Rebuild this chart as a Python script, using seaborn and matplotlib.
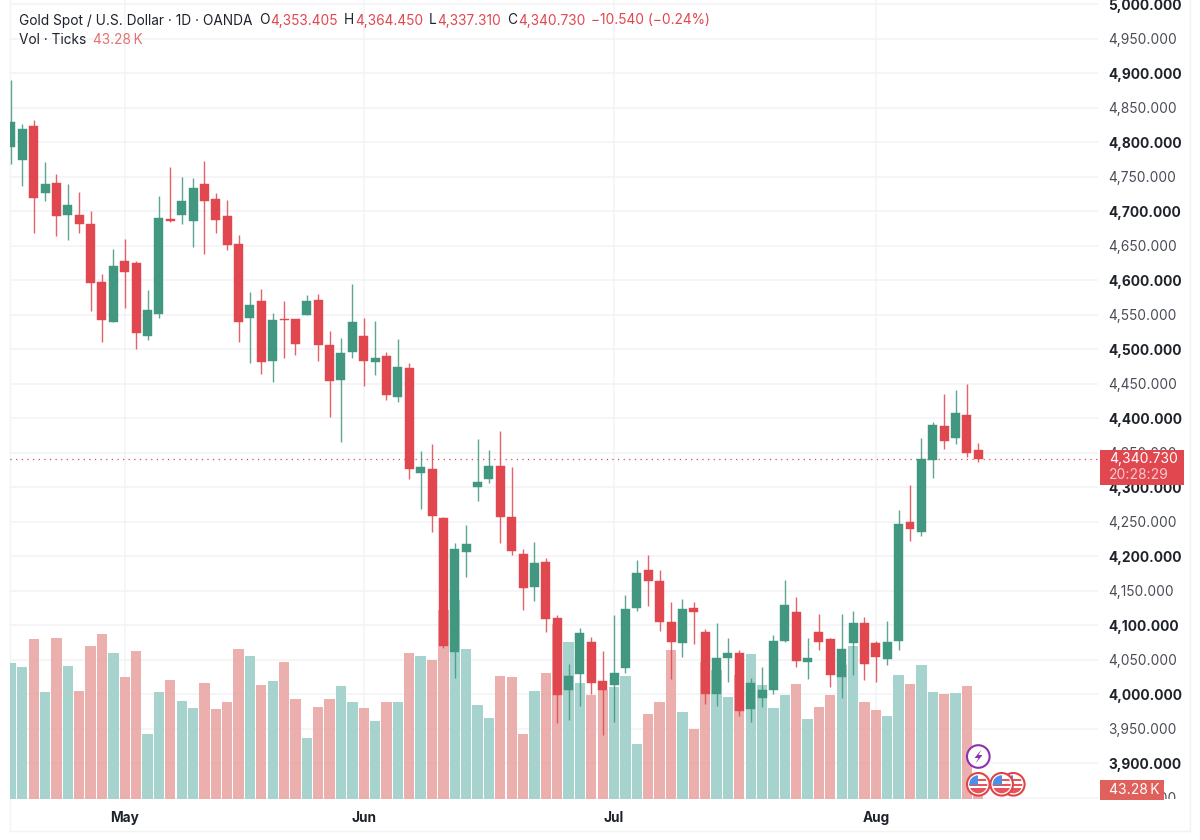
import matplotlib
matplotlib.use("Agg")
import matplotlib.pyplot as plt
import seaborn as sns
import pandas as pd
from matplotlib.patches import Circle, Rectangle, Polygon
from matplotlib.transforms import Affine2D, Bbox

opens = [4793,4774,4824,4726,4741,4695,4695,4682,4597.5,4539,4628.5,4625,4519.7,4550.7,4688.4,4694,4686.5,4740,4718,4693,4653,4545,4569.5,4483.5,4544,4544.4,4549.7,4571,4505.7,4455.5,4496,4520,4482,4490,4431,4473,4320.8,4326,4255.6,4061,4207,4300.5,4311.6,4331,4257.5,4203.4,4156,4192,4111,4006,4029.5,4076,4018.9,4013.6,4037.7,4124.7,4179.7,4164.3,4104.4,4074,4125,4090.4,4001,4052,4060,3978.8,3995.2,4007,4077.8,4119,4047.4,4090,4080.7,4025,4074,4103,4074.4,4051,4077.3,4249.3,4235.3,4339,4388.9,4371,4405.3,4353.405]
closes = [4830,4819,4720,4740,4693,4709,4681,4596.5,4542.5,4621,4612.6,4523.6,4556.5,4690,4686,4714.5,4734,4714.5,4688,4651.7,4540,4564.7,4481.6,4542.5,4543,4508,4569.5,4506.7,4454.5,4494.6,4540,4483.5,4487,4434,4474.8,4327,4329,4259,4070.6,4210,4218,4307.7,4331,4257.5,4208,4154.6,4191,4109.7,3999.6,4026.6,4088.5,4016.5,4006.3,4031,4123.7,4175.4,4164.3,4105.4,4076.4,4123.2,4119.8,4001,4052,4060.4,3976.4,4017,4006.8,4077.3,4129.5,4048,4052,4076,4028,4065.7,4103,4044.5,4054,4076.4,4246.9,4239.6,4341,4390.3,4367,4407.7,4350,4340.73]
highs = [4890,4827,4832,4771,4754,4739,4728.5,4700,4609,4646,4660,4628,4586,4722,4764,4749,4748,4772.4,4726,4717,4665,4583.5,4588,4552,4569.5,4544.4,4579,4579.6,4527,4516,4594.6,4544.9,4541,4496,4514.4,4480.7,4352,4363,4257.5,4218.9,4246,4369.6,4354,4382,4329,4210,4221,4197.6,4114.5,4044,4095.7,4082.7,4062.8,4115,4143.5,4194.7,4202,4179.7,4133.4,4137.7,4134.3,4094,4103.9,4081,4064,4023.2,4040.2,4086,4165.7,4141,4081.7,4116,4081.7,4116.4,4120.8,4112,4078,4106.3,4267,4303.4,4371,4394.7,4434.7,4441,4449.2,4364.45]
lows = [4768,4737,4668,4715,4664,4658,4668,4555,4510,4539,4560,4501,4513.5,4546,4685,4682,4648,4638.6,4669,4644,4511,4480.6,4464.7,4453,4488,4491.7,4549.7,4482.6,4402,4366,4488,4447,4463,4426.5,4424,4311.6,4269,4236,4066.7,4024,4170.6,4280,4305.8,4219,4202,4122,4136,4090.9,3959,3963,3983.6,4000.5,3941.6,3960,4030.5,4121.3,4128,4092.3,4022.3,4054.6,4072.5,3986,3983.6,4017.5,3969,3960.5,3982.2,4000,4076,4040,4022,4065,4011,3995,4028,4020.8,4018.4,4042.5,4065,4222.7,4230,4313,4356,4362.8,4343.5,4337.31]
volumes = [1949,1891,2304,1531,2309,1915,1555,2198,2376,2098,1747,2131,931,1531,1704,1402,1310,1661,1291,1392,2150,2054,1632,1690,1968,1440,874,1315,1440,1622,1392,1301,1118,1392,1392,2093,2050,1997,2717,2861,2150,1349,1162,1766,1747,931,1555,1805,2515,2256,1670,1493,1565,1608,1762,782,1214,1392,2141,1243,998,1973,1853,1459,1781,2083,1637,1301,1493,1651,1147,1320,1488,1920,2194,1397,1282,1190,1776,1651,1930,1536,1512,1526,1618,43.28]
month_positions = [10, 31, 53, 76]
month_labels = ["May", "Jun", "Jul", "Aug"]
price_ticks = list(range(3850, 5001, 50))
last_price = 4340.73

GREEN, RED = "#41977F", "#E1474F"
VOL_GREEN, VOL_RED = "#A1D0CB", "#EAA9A7"
GRID = "#F2F3F5"
INK = "#1E222B"
FONT = "Inter"

sns.set_theme(style="white", rc={"font.family": [FONT, "DejaVu Sans"]})
W, H = 1200, 840
fig = plt.figure(figsize=(W / 100, H / 100), dpi=100, facecolor="white")
PX = Affine2D().scale(1, -1).translate(0, H)  # screen pixels, top-left origin

axes_rect = [10 / W, 1 - 798.7 / H, 1088 / W, 798.7 / H]
XLIM = (-0.083, 95.52)
YLIM = (3848.8, 5006.2)

# outer frame of the chart
frame = fig.add_axes([10 / W, 1 - 831 / H, 1180 / W, 831 / H], zorder=-1)
frame.set_xticks([]); frame.set_yticks([])
frame.spines["top"].set_visible(False)
for s in ("left", "right", "bottom"):
    frame.spines[s].set_color(GRID); frame.spines[s].set_linewidth(1.0)

# scale pane: grid and tick labels, beneath everything
ax = fig.add_axes(axes_rect, zorder=0)
ax.patch.set_alpha(0)
ax.set_xlim(*XLIM); ax.set_ylim(*YLIM)
for s in ax.spines.values():
    s.set_visible(False)
ax.set_axisbelow(True)
ax.grid(True, axis="y", color=GRID, lw=1.1)
ax.grid(True, axis="x", color="#F3F4F6", lw=1.1)
ax.set_xticks(month_positions, month_labels, fontsize=9.8, fontweight="bold", color=INK)
ax.tick_params(axis="x", length=0, pad=8.5)
ax.yaxis.tick_right()
ax.set_yticks(price_ticks, [f"{v:,.3f}" for v in price_ticks])
ax.tick_params(axis="y", length=0, pad=7.5)
clip = Bbox([[1090, 41], [1200, 840]])
for v, lab in zip(price_ticks, ax.get_yticklabels()):
    bold = v % 100 == 0
    lab.set_fontsize(9.9)
    lab.set_fontweight("bold" if bold else "normal")
    lab.set_color(INK if bold else "#4A4D57")
    lab.set_clip_box(clip); lab.set_clip_on(True)

# volume pane
vol_ax = fig.add_axes(axes_rect, zorder=1)
index = list(range(len(opens)))
direction = ["up" if c >= o else "down" for o, c in zip(opens, closes)]
vol_df = pd.DataFrame({"i": index, "volume": volumes, "direction": direction})
sns.barplot(data=vol_df, x="i", y="volume", hue="direction", hue_order=["up", "down"],
            palette={"up": VOL_GREEN, "down": VOL_RED}, native_scale=True, dodge=False,
            width=0.905, saturation=1, legend=False, ax=vol_ax, linewidth=0, alpha=0.93)
vol_ax.set_xlim(*XLIM); vol_ax.set_ylim(0, 11501)
vol_ax.axis("off")

# candle pane
candle_ax = fig.add_axes(axes_rect, zorder=2)
candle_ax.set_xlim(*XLIM); candle_ax.set_ylim(*YLIM)
candle_ax.axis("off")
colors = [GREEN if d == "up" else RED for d in direction]
candle_ax.vlines(index, lows, highs, colors=colors, lw=1.0, alpha=0.85, zorder=3)
candle_ax.bar(index, [abs(c - o) for o, c in zip(opens, closes)], bottom=[min(o, c) for o, c in zip(opens, closes)],
              width=0.79, color=colors, edgecolor=colors, linewidth=0.3, zorder=4)
candle_ax.axhline(last_price, color=RED, lw=0.9, linestyle=(0, (1, 3.5)), zorder=2)

def ptext(x, y, s, color=INK, size=9.85, **kw):
    fig.text(x, y, s, color=color, fontsize=size, transform=PX, va="center", ha="left", zorder=12, **kw)

# header
ptext(19, 20.5, "Gold Spot / U.S. Dollar · 1D · OANDA")
ptext(259, 20.5, "O"); ptext(270, 20.5, "4,353.405", RED)
ptext(344, 20.5, "H"); ptext(355, 20.5, "4,364.450", RED)
ptext(429, 20.5, "L"); ptext(437, 20.5, "4,337.310", RED)
ptext(507, 20.5, "C"); ptext(518, 20.5, "4,340.730", RED)
ptext(591, 20.5, "−10.540 (−0.24%)", RED)
ptext(19, 39.5, "Vol · Ticks"); ptext(93, 39.5, "43.28\u2009K", "#E5716F")

# price and volume badges
fig.add_artist(Rectangle((1099.5, 450), 84.5, 35, transform=PX, fc=RED, ec="none", zorder=10))
ptext(1109, 458.5, "4,340.730", "#FFFFFF", 10)
ptext(1109, 475, "20:28:29", "#F6C9CB", 10)
fig.add_artist(Rectangle((1099.5, 780), 64.5, 20, transform=PX, fc="#E0605B", ec="none", zorder=10))
ptext(1109, 790, "43.28\u2009K", "#FFFFFF", 10)

# event markers
fig.add_artist(Circle((978.3, 756.5), 11.3, transform=PX, fc="white", ec="#8E2FB0", lw=1.5, zorder=8))
fig.add_artist(Polygon([(981.5, 749.5), (974.5, 758), (978.5, 758), (975.5, 763.5), (982.5, 755), (978.5, 755)],
                       closed=True, transform=PX, fc="#8E2FB0", ec="none", zorder=9))

def flag(cx, cy, z):
    rim = Circle((cx, cy), 11.3, transform=PX, fc="white", ec="#E04448", lw=1.5, zorder=z)
    fig.add_artist(rim)
    disc = Circle((cx, cy), 9, transform=PX, fc="white", ec="none", zorder=z)
    fig.add_artist(disc)
    for k, (y0, hh) in enumerate([(-5.5, 2.4), (-0.8, 2.4), (3.9, 5.5)]):
        r = Rectangle((cx - 10, cy + y0), 20, hh, transform=PX, fc="#E8525A", ec="none", zorder=z + 0.1)
        fig.add_artist(r); r.set_clip_path(disc)
    c = Rectangle((cx - 10, cy - 10), 10, 10.5, transform=PX, fc="#4A8FE8", ec="none", zorder=z + 0.2)
    fig.add_artist(c); c.set_clip_path(disc)

flag(1013.3, 784.3, 8)
flag(1001.7, 784.3, 8.5)
flag(978.3, 784.3, 9)

fig.savefig("out.png", dpi=100, facecolor="white")
